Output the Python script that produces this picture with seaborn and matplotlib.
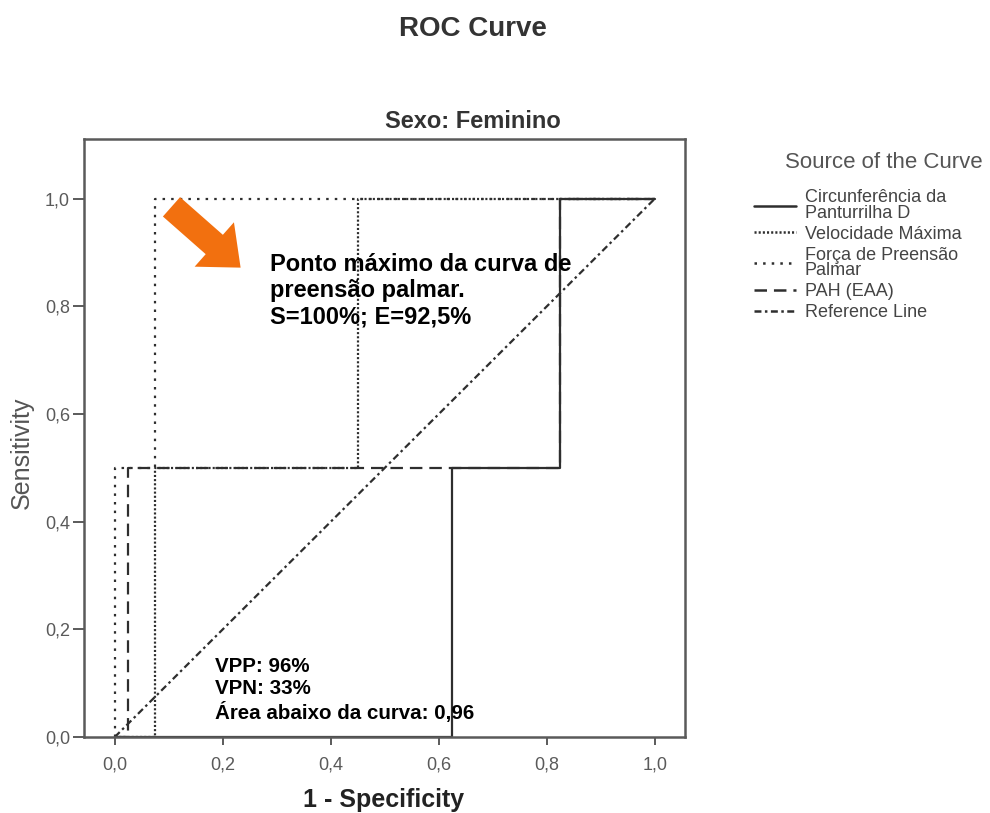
import pandas as pd
import seaborn as sns
import matplotlib.pyplot as plt
from matplotlib.lines import Line2D


# --------------------------------------------------
# Data
# --------------------------------------------------

curve_names = [
    "Circunferência da\nPanturrilha D",
    "Velocidade Máxima",
    "Força de Preensão\nPalmar",
    "PAH (EAA)",
    "Reference Line",
]

circ_x = [0.0, 0.625, 0.625, 0.825, 0.825, 1.0]
circ_y = [0.0, 0.0, 0.5, 0.5, 1.0, 1.0]

vel_x = [0.0, 0.075, 0.075, 0.45, 0.45, 1.0]
vel_y = [0.0, 0.0, 0.5, 0.5, 1.0, 1.0]

forca_x = [0.0, 0.0, 0.075, 0.075, 1.0]
forca_y = [0.0, 0.5, 0.5, 1.0, 1.0]

pah_x = [0.0, 0.025, 0.025, 0.825, 0.825, 1.0]
pah_y = [0.0, 0.0, 0.5, 0.5, 1.0, 1.0]

ref_x = [0.0, 1.0]
ref_y = [0.0, 1.0]

tick_values = [0.0, 0.2, 0.4, 0.6, 0.8, 1.0]
tick_labels = ["0,0", "0,2", "0,4", "0,6", "0,8", "1,0"]

note_text = "Ponto máximo da curva de\npreensão palmar.\nS=100%; E=92,5%"
stats_text = "VPP: 96%\nVPN: 33%\nÁrea abaixo da curva: 0,96"


# --------------------------------------------------
# Build long table for seaborn
# --------------------------------------------------

rows = []
for name, xs, ys in zip(
    curve_names,
    [circ_x, vel_x, forca_x, pah_x, ref_x],
    [circ_y, vel_y, forca_y, pah_y, ref_y],
):
    for i, (x, y) in enumerate(zip(xs, ys)):
        rows.append({"curve": name, "order": i, "x": x, "y": y})

df = pd.DataFrame(rows)

dash_map = {
    curve_names[0]: "",
    curve_names[1]: (1.5, 1.5),
    curve_names[2]: (1.8, 4.4),
    curve_names[3]: (9, 5),
    curve_names[4]: (5, 2.5, 1.8, 2.5),
}


# --------------------------------------------------
# Style
# --------------------------------------------------

sns.set_theme(style="white")
plt.rcParams["font.family"] = ["Liberation Sans", "DejaVu Sans"]
plt.rcParams["lines.scale_dashes"] = False

line_color = "#2e2e2e"
frame_color = "#5a5a5a"
tick_color = "#5a5a5a"

fig = plt.figure(figsize=(9.9, 8.13), dpi=100)
ax = fig.add_axes([84 / 990, 76 / 813, 601 / 990, 598 / 813])

sns.lineplot(
    data=df,
    x="x",
    y="y",
    style="curve",
    style_order=curve_names,
    dashes=dash_map,
    units="curve",
    estimator=None,
    sort=False,
    color=line_color,
    linewidth=1.6,
    legend=False,
    ax=ax,
)

ax.set_xlim(-0.057, 1.056)
ax.set_ylim(0.0, 1.111)

ax.set_xticks(tick_values)
ax.set_xticklabels(tick_labels)
ax.set_yticks(tick_values)
ax.set_yticklabels(tick_labels)

ax.tick_params(axis="x", direction="out", length=6, width=1.4,
               color=frame_color, labelsize=13, labelcolor=tick_color,
               pad=8, bottom=True)
ax.tick_params(axis="y", direction="out", length=8, width=1.4,
               color=frame_color, labelsize=13, labelcolor=tick_color,
               pad=2, left=True)

for sp in ax.spines.values():
    sp.set_color(frame_color)
    sp.set_linewidth(1.8)

ax.set_xlabel("")
ax.set_ylabel("")


# --------------------------------------------------
# Annotations
# --------------------------------------------------

ax.arrow(
    0.105, 0.985, 0.128, -0.113,
    width=0.048, head_width=0.11, head_length=0.065,
    length_includes_head=True, color="#F2700F", lw=0, zorder=5,
)

ax.text(0.287, 0.829, note_text, fontsize=17, fontweight="bold",
        color="black", ha="left", va="center", linespacing=1.2)

ax.text(0.185, 0.087, stats_text, fontsize=14.8, fontweight="bold",
        color="black", ha="left", va="center", linespacing=1.2)


# --------------------------------------------------
# Titles / labels
# --------------------------------------------------

fig.text(473 / 990, 1 - 29 / 813, "ROC Curve", fontsize=20,
         fontweight="bold", color="#333333", ha="center", va="center")
fig.text(473 / 990, 1 - 122 / 813, "Sexo: Feminino", fontsize=17,
         fontweight="bold", color="#333333", ha="center", va="center")
fig.text(384 / 990, 1 - 800 / 813, "1 - Specificity", fontsize=18,
         fontweight="bold", color="#222222", ha="center", va="center")
fig.text(22 / 990, 1 - 453 / 813, "Sensitivity", fontsize=18,
         color="#555555", ha="center", va="center", rotation=90)
fig.text(884 / 990, 1 - 163 / 813, "Source of the Curve", fontsize=16,
         color="#555555", ha="center", va="center")


# --------------------------------------------------
# Legend
# --------------------------------------------------

handles = [
    Line2D([0], [0], color=line_color, lw=1.8, dashes=dash_map[n])
    if dash_map[n] != "" else Line2D([0], [0], color=line_color, lw=1.8)
    for n in curve_names
]

leg = fig.legend(
    handles, curve_names,
    loc="upper left",
    bbox_to_anchor=(754 / 990, 1 - 189 / 813),
    frameon=False,
    fontsize=13,
    handlelength=2.3,
    handletextpad=0.5,
    labelspacing=0.22,
    borderpad=0,
    borderaxespad=0,
)
for t in leg.get_texts():
    t.set_color("#444444")
    t.set_linespacing(0.9)

fig.savefig("out.png", dpi=100)
